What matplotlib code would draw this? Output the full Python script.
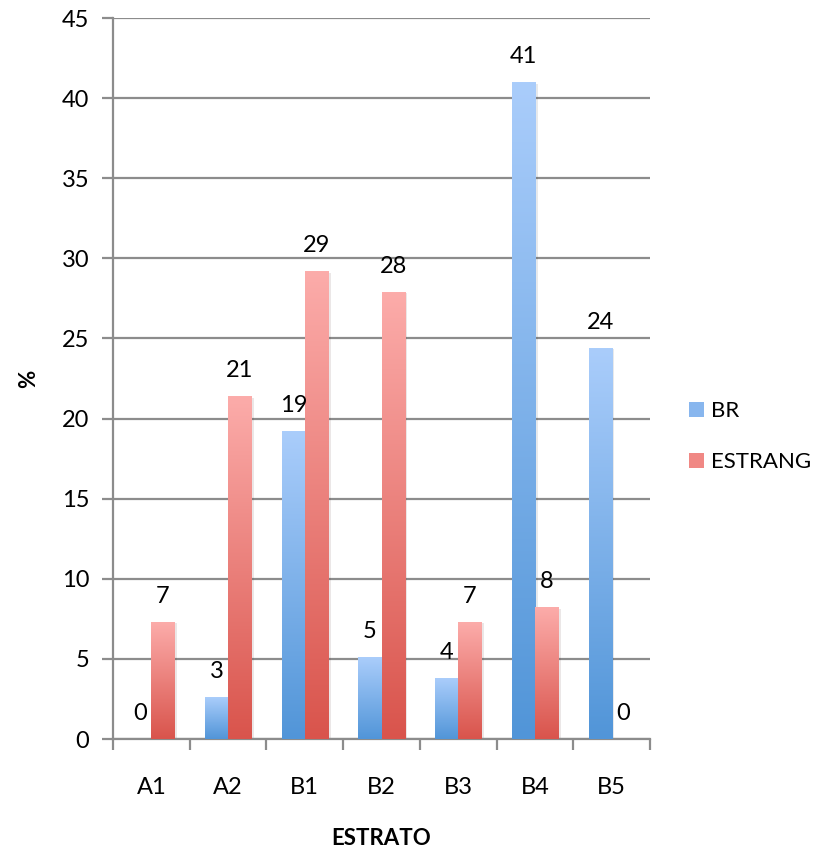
import numpy as np
import matplotlib.pyplot as plt
import matplotlib.patheffects as pe
from matplotlib.patches import Patch
from matplotlib.colors import LinearSegmentedColormap

plt.rcParams['font.family'] = ['Lato', 'DejaVu Sans']

# Dados por estrato (%)
estratos = ['A1', 'A2', 'B1', 'B2', 'B3', 'B4', 'B5']
br = [0, 2.6, 19.2, 5.1, 3.8, 41.0, 24.4]
estrang = [7.3, 21.4, 29.2, 27.9, 7.3, 8.2, 0]

azul = ('#aacdfb', '#5195d8')
vermelho = ('#fcacaa', '#d9544c')
cinza = '#8c8c8c'
fs = 17

fig = plt.figure(figsize=(8.23, 8.51), dpi=100)
ax = fig.add_axes([0.1373, 0.1316, 0.6525, 0.8472])

x = np.arange(len(estratos)) + 0.5
larg = 0.3


def barras_gradiente(xs, vals, cores):
    cmap = LinearSegmentedColormap.from_list('g', [cores[1], cores[0]])
    grad = np.linspace(0, 1, 256).reshape(-1, 1)
    barras = ax.bar(xs, vals, width=larg, align='edge', color=cores[1],
                    zorder=2, linewidth=0)
    for b in barras:
        b.set_path_effects([pe.SimplePatchShadow(offset=(2, -1), alpha=0.1),
                            pe.Normal()])
        if b.get_height() <= 0:
            continue
        ax.imshow(grad, cmap=cmap, origin='lower', aspect='auto', zorder=3,
                  extent=(b.get_x(), b.get_x() + b.get_width(), 0, b.get_height()))
    for b, v in zip(barras, vals):
        ax.text(b.get_x() + b.get_width() / 2, v + 1.6, f'{v:.0f}',
                ha='center', va='center', fontsize=fs, zorder=4)
    return barras


barras_gradiente(x - larg, br, azul)
barras_gradiente(x, estrang, vermelho)

ax.set_xlim(0, 7)
ax.set_ylim(0, 45)
ax.set_yticks(np.arange(0, 46, 5))
ax.grid(axis='y', color=cinza, linewidth=1.6)
ax.set_axisbelow(True)

ax.set_xticks(np.arange(0, 8))
ax.set_xticklabels([])
ax.set_xticks(x, minor=True)
ax.set_xticklabels(estratos, minor=True)
ax.tick_params(axis='x', which='major', length=8, width=1.6, color=cinza)
ax.tick_params(axis='x', which='minor', length=0, pad=27, labelsize=fs)
ax.tick_params(axis='y', length=8, width=1.6, color=cinza, pad=9, labelsize=fs)

for lado in ['top', 'right']:
    ax.spines[lado].set_visible(False)
for lado in ['left', 'bottom']:
    ax.spines[lado].set_color(cinza)
    ax.spines[lado].set_linewidth(1.6)

ax.set_xlabel('ESTRATO', fontsize=16, fontweight='bold', labelpad=22)
ax.set_ylabel('%', fontsize=16, fontweight='bold', labelpad=16)

handles = [Patch(facecolor='#88b6ee', label='BR'),
           Patch(facecolor='#f08884', label='ESTRANG')]
ax.legend(handles=handles, loc='center left', bbox_to_anchor=(1.035, 0.419),
          frameon=False, fontsize=16, handlelength=0.7, handleheight=0.7,
          handletextpad=0.3, labelspacing=1.4)

fig.savefig('out.png', dpi=100)
